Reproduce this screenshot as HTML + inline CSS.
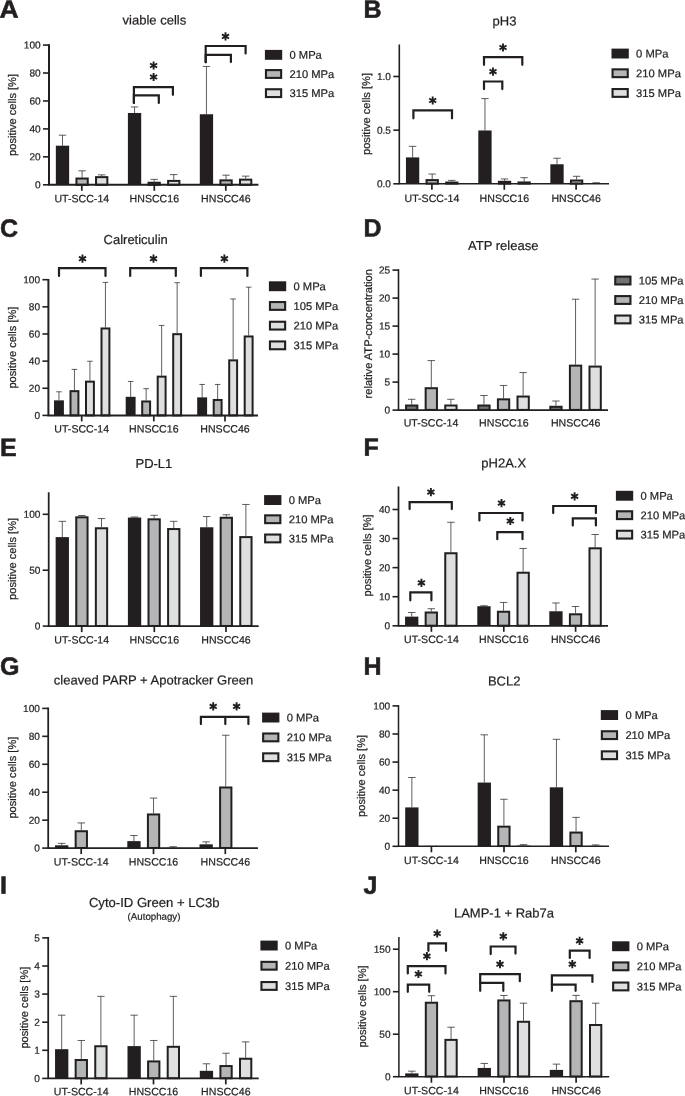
<!DOCTYPE html>
<html><head><meta charset="utf-8"><title>Figure</title>
<style>
html,body{margin:0;padding:0;background:#fff;}
body{width:685px;height:1096px;overflow:hidden;}
text{stroke:#231f20;stroke-width:0.22px;}
svg{display:block;will-change:transform;text-rendering:geometricPrecision;font-family:"Liberation Sans",sans-serif;fill:#231f20;}
</style></head><body>
<svg width="685" height="1096" viewBox="0 0 685 1096">
<rect x="0" y="0" width="685" height="1096" fill="#ffffff"/>
<text transform="translate(-0.40 17.80) rotate(0.03) scale(1.06 1.0)" font-size="25" font-weight="bold" style="stroke:#231f20;stroke-width:0.55px;stroke-linejoin:miter">A</text>
<text transform="translate(154.40 24.60) rotate(0.03)" font-size="13" text-anchor="middle" font-weight="normal" >viable cells</text>
<path d="M62.50 145.67V135.19M58.78 135.19H66.22" stroke="#2c2829" stroke-width="0.75" fill="none"/>
<rect x="55.85" y="145.67" width="13.30" height="39.13" fill="#231f20"/>
<path d="M82.10 177.53V170.83M78.38 170.83H85.82" stroke="#2c2829" stroke-width="0.75" fill="none"/>
<rect x="76.45" y="178.53" width="11.30" height="6.27" fill="#b3b5b7" stroke="#231f20" stroke-width="2.0"/>
<path d="M101.70 176.14V174.88M97.98 174.88H105.42" stroke="#2c2829" stroke-width="0.75" fill="none"/>
<rect x="96.05" y="177.14" width="11.30" height="7.66" fill="#dedfe0" stroke="#231f20" stroke-width="2.0"/>
<path d="M134.55 112.97V106.96M130.83 106.96H138.27" stroke="#2c2829" stroke-width="0.75" fill="none"/>
<rect x="127.90" y="112.97" width="13.30" height="71.83" fill="#231f20"/>
<path d="M154.15 181.73V179.35M150.43 179.35H157.87" stroke="#2c2829" stroke-width="0.75" fill="none"/>
<rect x="148.50" y="182.73" width="11.30" height="2.07" fill="#b3b5b7" stroke="#231f20" stroke-width="2.0"/>
<path d="M173.75 179.91V174.60M170.03 174.60H177.47" stroke="#2c2829" stroke-width="0.75" fill="none"/>
<rect x="168.10" y="180.91" width="11.30" height="3.89" fill="#dedfe0" stroke="#231f20" stroke-width="2.0"/>
<path d="M206.45 114.23V66.44M202.73 66.44H210.17" stroke="#2c2829" stroke-width="0.75" fill="none"/>
<rect x="199.80" y="114.23" width="13.30" height="70.57" fill="#231f20"/>
<path d="M226.05 179.35V175.16M222.33 175.16H229.77" stroke="#2c2829" stroke-width="0.75" fill="none"/>
<rect x="220.40" y="180.35" width="11.30" height="4.45" fill="#b3b5b7" stroke="#231f20" stroke-width="2.0"/>
<path d="M245.65 178.65V176.14M241.93 176.14H249.37" stroke="#2c2829" stroke-width="0.75" fill="none"/>
<rect x="240.00" y="179.65" width="11.30" height="5.15" fill="#dedfe0" stroke="#231f20" stroke-width="2.0"/>
<path d="M49.00 44.26V184.80H258.40" stroke="#231f20" stroke-width="2.0" fill="none" stroke-linejoin="miter"/>
<path d="M43.00 184.80H49.00" stroke="#231f20" stroke-width="1.6"/>
<text transform="translate(40.70 188.30) rotate(0.03)" font-size="10.1" text-anchor="end" font-weight="normal" >0</text>
<path d="M43.00 156.85H49.00" stroke="#231f20" stroke-width="1.6"/>
<text transform="translate(40.70 160.35) rotate(0.03)" font-size="10.1" text-anchor="end" font-weight="normal" >20</text>
<path d="M43.00 128.90H49.00" stroke="#231f20" stroke-width="1.6"/>
<text transform="translate(40.70 132.40) rotate(0.03)" font-size="10.1" text-anchor="end" font-weight="normal" >40</text>
<path d="M43.00 100.96H49.00" stroke="#231f20" stroke-width="1.6"/>
<text transform="translate(40.70 104.46) rotate(0.03)" font-size="10.1" text-anchor="end" font-weight="normal" >60</text>
<path d="M43.00 73.01H49.00" stroke="#231f20" stroke-width="1.6"/>
<text transform="translate(40.70 76.51) rotate(0.03)" font-size="10.1" text-anchor="end" font-weight="normal" >80</text>
<path d="M43.00 45.06H49.00" stroke="#231f20" stroke-width="1.6"/>
<text transform="translate(40.70 48.56) rotate(0.03)" font-size="10.1" text-anchor="end" font-weight="normal" >100</text>
<path d="M81.80 184.80V190.80" stroke="#231f20" stroke-width="1.7"/>
<text transform="translate(81.80 202.30) rotate(0.03)" font-size="10.6" text-anchor="middle" font-weight="normal" >UT-SCC-14</text>
<path d="M154.30 184.80V190.80" stroke="#231f20" stroke-width="1.7"/>
<text transform="translate(154.30 202.30) rotate(0.03)" font-size="10.6" text-anchor="middle" font-weight="normal" >HNSCC16</text>
<path d="M225.80 184.80V190.80" stroke="#231f20" stroke-width="1.7"/>
<text transform="translate(225.80 202.30) rotate(0.03)" font-size="10.6" text-anchor="middle" font-weight="normal" >HNSCC46</text>
<text transform="translate(16.00 114.93) rotate(-90)" font-size="11.1" text-anchor="middle">positive cells [%]</text>
<rect x="264.90" y="49.90" width="17.3" height="9.9" fill="#231f20"/>
<text transform="translate(289.50 58.80) rotate(0.03)" font-size="11.2" text-anchor="start" font-weight="normal" >0 MPa</text>
<rect x="265.95" y="70.10" width="15.2" height="7.8" fill="#b3b5b7" stroke="#231f20" stroke-width="2.1"/>
<text transform="translate(289.50 77.95) rotate(0.03)" font-size="11.2" text-anchor="start" font-weight="normal" >210 MPa</text>
<rect x="265.95" y="89.25" width="15.2" height="7.8" fill="#dedfe0" stroke="#231f20" stroke-width="2.1"/>
<text transform="translate(289.50 97.10) rotate(0.03)" font-size="11.2" text-anchor="start" font-weight="normal" >315 MPa</text>
<path d="M133.90 102.90V87.20H172.90V94.80" stroke="#231f20" stroke-width="2.2" fill="none" stroke-linejoin="miter" stroke-linecap="round"/>
<path d="M133.90 102.90V95.30H158.80V102.90" stroke="#231f20" stroke-width="2.2" fill="none" stroke-linejoin="miter" stroke-linecap="round"/>
<path d="M205.70 62.20V46.00H245.60V53.50" stroke="#231f20" stroke-width="2.2" fill="none" stroke-linejoin="miter" stroke-linecap="round"/>
<path d="M205.70 62.20V54.80H230.90V62.00" stroke="#231f20" stroke-width="2.2" fill="none" stroke-linejoin="miter" stroke-linecap="round"/>
<path d="M153.60 61.40L153.60 69.60M157.15 63.45L150.05 67.55M157.15 67.55L150.05 63.45" stroke="#231f20" stroke-width="1.9" fill="none" stroke-linecap="butt"/>
<path d="M153.60 72.90L153.60 81.10M157.15 74.95L150.05 79.05M157.15 79.05L150.05 74.95" stroke="#231f20" stroke-width="1.9" fill="none" stroke-linecap="butt"/>
<path d="M225.50 32.30L225.50 40.50M229.05 34.35L221.95 38.45M229.05 38.45L221.95 34.35" stroke="#231f20" stroke-width="1.9" fill="none" stroke-linecap="butt"/>
<text transform="translate(363.40 17.80) rotate(0.03) scale(1.0 1.0)" font-size="25" font-weight="bold" style="stroke:#231f20;stroke-width:0.55px;stroke-linejoin:miter">B</text>
<text transform="translate(504.50 25.60) rotate(0.03)" font-size="13" text-anchor="middle" font-weight="normal" >pH3</text>
<path d="M412.60 157.40V146.35M408.88 146.35H416.32" stroke="#2c2829" stroke-width="0.75" fill="none"/>
<rect x="405.95" y="157.40" width="13.30" height="26.40" fill="#231f20"/>
<path d="M432.20 179.08V174.04M428.48 174.04H435.92" stroke="#2c2829" stroke-width="0.75" fill="none"/>
<rect x="426.55" y="180.08" width="11.30" height="3.52" fill="#b3b5b7" stroke="#231f20" stroke-width="2.0"/>
<path d="M451.80 181.55V180.37M448.08 180.37H455.52" stroke="#2c2829" stroke-width="0.75" fill="none"/>
<rect x="446.15" y="182.55" width="11.30" height="1.05" fill="#dedfe0" stroke="#231f20" stroke-width="2.0"/>
<path d="M484.95 130.47V98.60M481.23 98.60H488.67" stroke="#2c2829" stroke-width="0.75" fill="none"/>
<rect x="478.30" y="130.47" width="13.30" height="53.33" fill="#231f20"/>
<path d="M504.55 180.80V178.97M500.83 178.97H508.27" stroke="#2c2829" stroke-width="0.75" fill="none"/>
<rect x="498.90" y="181.80" width="11.30" height="1.80" fill="#b3b5b7" stroke="#231f20" stroke-width="2.0"/>
<path d="M524.15 181.44V177.68M520.43 177.68H527.87" stroke="#2c2829" stroke-width="0.75" fill="none"/>
<rect x="518.50" y="182.44" width="11.30" height="1.16" fill="#dedfe0" stroke="#231f20" stroke-width="2.0"/>
<path d="M557.00 164.27V158.26M553.28 158.26H560.72" stroke="#2c2829" stroke-width="0.75" fill="none"/>
<rect x="550.35" y="164.27" width="13.30" height="19.53" fill="#231f20"/>
<path d="M576.60 179.51V176.29M572.88 176.29H580.32" stroke="#2c2829" stroke-width="0.75" fill="none"/>
<rect x="570.95" y="180.51" width="11.30" height="3.09" fill="#b3b5b7" stroke="#231f20" stroke-width="2.0"/>
<path d="M596.20 183.37V182.73M592.48 182.73H599.92" stroke="#2c2829" stroke-width="0.75" fill="none"/>
<rect x="589.55" y="183.37" width="13.30" height="0.43" fill="#231f20"/>
<path d="M399.30 44.40V183.80H609.00" stroke="#231f20" stroke-width="1.6" fill="none" stroke-linejoin="miter"/>
<path d="M393.30 183.80H399.30" stroke="#231f20" stroke-width="1.6"/>
<text transform="translate(391.00 187.30) rotate(0.03)" font-size="10.1" text-anchor="end" font-weight="normal" >0.0</text>
<path d="M393.30 130.15H399.30" stroke="#231f20" stroke-width="1.6"/>
<text transform="translate(391.00 133.65) rotate(0.03)" font-size="10.1" text-anchor="end" font-weight="normal" >0.5</text>
<path d="M393.30 76.50H399.30" stroke="#231f20" stroke-width="1.6"/>
<text transform="translate(391.00 80.00) rotate(0.03)" font-size="10.1" text-anchor="end" font-weight="normal" >1.0</text>
<path d="M431.90 183.80V189.80" stroke="#231f20" stroke-width="1.7"/>
<text transform="translate(431.90 202.00) rotate(0.03)" font-size="10.6" text-anchor="middle" font-weight="normal" >UT-SCC-14</text>
<path d="M504.30 183.80V189.80" stroke="#231f20" stroke-width="1.7"/>
<text transform="translate(504.30 202.00) rotate(0.03)" font-size="10.6" text-anchor="middle" font-weight="normal" >HNSCC16</text>
<path d="M576.10 183.80V189.80" stroke="#231f20" stroke-width="1.7"/>
<text transform="translate(576.10 202.00) rotate(0.03)" font-size="10.6" text-anchor="middle" font-weight="normal" >HNSCC46</text>
<text transform="translate(369.90 114.00) rotate(-90)" font-size="11.1" text-anchor="middle">positive cells [%]</text>
<rect x="611.50" y="48.60" width="17.3" height="9.9" fill="#231f20"/>
<text transform="translate(636.10 57.50) rotate(0.03)" font-size="11.2" text-anchor="start" font-weight="normal" >0 MPa</text>
<rect x="612.55" y="69.35" width="15.2" height="7.8" fill="#b3b5b7" stroke="#231f20" stroke-width="2.1"/>
<text transform="translate(636.10 77.20) rotate(0.03)" font-size="11.2" text-anchor="start" font-weight="normal" >210 MPa</text>
<rect x="612.55" y="89.05" width="15.2" height="7.8" fill="#dedfe0" stroke="#231f20" stroke-width="2.1"/>
<text transform="translate(636.10 96.90) rotate(0.03)" font-size="11.2" text-anchor="start" font-weight="normal" >315 MPa</text>
<path d="M413.40 118.30V110.40H452.00V118.30" stroke="#231f20" stroke-width="2.2" fill="none" stroke-linejoin="miter" stroke-linecap="round"/>
<path d="M484.00 89.10V81.50H502.30V89.10" stroke="#231f20" stroke-width="2.2" fill="none" stroke-linejoin="miter" stroke-linecap="round"/>
<path d="M484.00 64.80V57.10H522.30V64.80" stroke="#231f20" stroke-width="2.2" fill="none" stroke-linejoin="miter" stroke-linecap="round"/>
<path d="M432.70 96.40L432.70 104.60M436.25 98.45L429.15 102.55M436.25 102.55L429.15 98.45" stroke="#231f20" stroke-width="1.9" fill="none" stroke-linecap="butt"/>
<path d="M493.00 67.50L493.00 75.70M496.55 69.55L489.45 73.65M496.55 73.65L489.45 69.55" stroke="#231f20" stroke-width="1.9" fill="none" stroke-linecap="butt"/>
<path d="M503.00 43.40L503.00 51.60M506.55 45.45L499.45 49.55M506.55 49.55L499.45 45.45" stroke="#231f20" stroke-width="1.9" fill="none" stroke-linecap="butt"/>
<text transform="translate(0.00 236.70) rotate(0.03) scale(1.0 1.0)" font-size="25" font-weight="bold" style="stroke:#231f20;stroke-width:0.55px;stroke-linejoin:miter">C</text>
<text transform="translate(135.70 244.10) rotate(0.03)" font-size="13" text-anchor="middle" font-weight="normal" >Calreticulin</text>
<path d="M58.95 400.34V391.79M56.18 391.79H61.72" stroke="#2c2829" stroke-width="0.75" fill="none"/>
<rect x="54.00" y="400.34" width="9.90" height="15.06" fill="#231f20"/>
<path d="M74.45 390.16V369.40M71.68 369.40H77.22" stroke="#2c2829" stroke-width="0.75" fill="none"/>
<rect x="70.50" y="391.16" width="7.90" height="24.24" fill="#b3b5b7" stroke="#231f20" stroke-width="2.0"/>
<path d="M89.95 380.66V361.26M87.18 361.26H92.72" stroke="#2c2829" stroke-width="0.75" fill="none"/>
<rect x="86.00" y="381.66" width="7.90" height="33.74" fill="#dedfe0" stroke="#231f20" stroke-width="2.0"/>
<path d="M105.45 327.47V282.41M102.68 282.41H108.22" stroke="#2c2829" stroke-width="0.75" fill="none"/>
<rect x="101.50" y="328.47" width="7.90" height="86.93" fill="#dedfe0" stroke="#231f20" stroke-width="2.0"/>
<path d="M130.65 396.81V381.47M127.88 381.47H133.42" stroke="#2c2829" stroke-width="0.75" fill="none"/>
<rect x="125.70" y="396.81" width="9.90" height="18.59" fill="#231f20"/>
<path d="M146.15 400.47V388.67M143.38 388.67H148.92" stroke="#2c2829" stroke-width="0.75" fill="none"/>
<rect x="142.20" y="401.47" width="7.90" height="13.93" fill="#b3b5b7" stroke="#231f20" stroke-width="2.0"/>
<path d="M161.65 375.64V325.43M158.88 325.43H164.42" stroke="#2c2829" stroke-width="0.75" fill="none"/>
<rect x="157.70" y="376.64" width="7.90" height="38.76" fill="#dedfe0" stroke="#231f20" stroke-width="2.0"/>
<path d="M177.15 333.17V282.69M174.38 282.69H179.92" stroke="#2c2829" stroke-width="0.75" fill="none"/>
<rect x="173.20" y="334.17" width="7.90" height="81.23" fill="#dedfe0" stroke="#231f20" stroke-width="2.0"/>
<path d="M202.15 397.35V384.46M199.38 384.46H204.92" stroke="#2c2829" stroke-width="0.75" fill="none"/>
<rect x="197.20" y="397.35" width="9.90" height="18.05" fill="#231f20"/>
<path d="M217.65 398.98V384.46M214.88 384.46H220.42" stroke="#2c2829" stroke-width="0.75" fill="none"/>
<rect x="213.70" y="399.98" width="7.90" height="15.42" fill="#b3b5b7" stroke="#231f20" stroke-width="2.0"/>
<path d="M233.15 359.36V298.97M230.38 298.97H235.92" stroke="#2c2829" stroke-width="0.75" fill="none"/>
<rect x="229.20" y="360.36" width="7.90" height="55.04" fill="#dedfe0" stroke="#231f20" stroke-width="2.0"/>
<path d="M248.65 335.47V287.16M245.88 287.16H251.42" stroke="#2c2829" stroke-width="0.75" fill="none"/>
<rect x="244.70" y="336.47" width="7.90" height="78.93" fill="#dedfe0" stroke="#231f20" stroke-width="2.0"/>
<path d="M48.40 278.90V415.40H258.00" stroke="#231f20" stroke-width="2.0" fill="none" stroke-linejoin="miter"/>
<path d="M42.40 415.40H48.40" stroke="#231f20" stroke-width="1.6"/>
<text transform="translate(40.10 418.90) rotate(0.03)" font-size="10.1" text-anchor="end" font-weight="normal" >0</text>
<path d="M42.40 388.26H48.40" stroke="#231f20" stroke-width="1.6"/>
<text transform="translate(40.10 391.76) rotate(0.03)" font-size="10.1" text-anchor="end" font-weight="normal" >20</text>
<path d="M42.40 361.12H48.40" stroke="#231f20" stroke-width="1.6"/>
<text transform="translate(40.10 364.62) rotate(0.03)" font-size="10.1" text-anchor="end" font-weight="normal" >40</text>
<path d="M42.40 333.98H48.40" stroke="#231f20" stroke-width="1.6"/>
<text transform="translate(40.10 337.48) rotate(0.03)" font-size="10.1" text-anchor="end" font-weight="normal" >60</text>
<path d="M42.40 306.84H48.40" stroke="#231f20" stroke-width="1.6"/>
<text transform="translate(40.10 310.34) rotate(0.03)" font-size="10.1" text-anchor="end" font-weight="normal" >80</text>
<path d="M42.40 279.70H48.40" stroke="#231f20" stroke-width="1.6"/>
<text transform="translate(40.10 283.20) rotate(0.03)" font-size="10.1" text-anchor="end" font-weight="normal" >100</text>
<path d="M81.70 415.40V421.40" stroke="#231f20" stroke-width="1.7"/>
<text transform="translate(81.70 432.50) rotate(0.03)" font-size="10.6" text-anchor="middle" font-weight="normal" >UT-SCC-14</text>
<path d="M153.80 415.40V421.40" stroke="#231f20" stroke-width="1.7"/>
<text transform="translate(153.80 432.50) rotate(0.03)" font-size="10.6" text-anchor="middle" font-weight="normal" >HNSCC16</text>
<path d="M225.00 415.40V421.40" stroke="#231f20" stroke-width="1.7"/>
<text transform="translate(225.00 432.50) rotate(0.03)" font-size="10.6" text-anchor="middle" font-weight="normal" >HNSCC46</text>
<text transform="translate(16.00 347.55) rotate(-90)" font-size="11.1" text-anchor="middle">positive cells [%]</text>
<rect x="268.90" y="281.30" width="17.3" height="9.9" fill="#231f20"/>
<text transform="translate(293.50 290.20) rotate(0.03)" font-size="11.2" text-anchor="start" font-weight="normal" >0 MPa</text>
<rect x="269.95" y="302.05" width="15.2" height="7.8" fill="#b3b5b7" stroke="#231f20" stroke-width="2.1"/>
<text transform="translate(293.50 309.90) rotate(0.03)" font-size="11.2" text-anchor="start" font-weight="normal" >105 MPa</text>
<rect x="269.95" y="321.75" width="15.2" height="7.8" fill="#dedfe0" stroke="#231f20" stroke-width="2.1"/>
<text transform="translate(293.50 329.60) rotate(0.03)" font-size="11.2" text-anchor="start" font-weight="normal" >210 MPa</text>
<rect x="269.95" y="341.45" width="15.2" height="7.8" fill="#dedfe0" stroke="#231f20" stroke-width="2.1"/>
<text transform="translate(293.50 349.30) rotate(0.03)" font-size="11.2" text-anchor="start" font-weight="normal" >315 MPa</text>
<path d="M59.00 276.00V268.10H105.50V276.00" stroke="#231f20" stroke-width="2.2" fill="none" stroke-linejoin="miter" stroke-linecap="round"/>
<path d="M130.20 276.00V268.10H175.80V276.00" stroke="#231f20" stroke-width="2.2" fill="none" stroke-linejoin="miter" stroke-linecap="round"/>
<path d="M200.90 276.00V268.10H247.40V276.00" stroke="#231f20" stroke-width="2.2" fill="none" stroke-linejoin="miter" stroke-linecap="round"/>
<path d="M82.50 254.60L82.50 262.80M86.05 256.65L78.95 260.75M86.05 260.75L78.95 256.65" stroke="#231f20" stroke-width="1.9" fill="none" stroke-linecap="butt"/>
<path d="M153.50 254.60L153.50 262.80M157.05 256.65L149.95 260.75M157.05 260.75L149.95 256.65" stroke="#231f20" stroke-width="1.9" fill="none" stroke-linecap="butt"/>
<path d="M224.40 254.60L224.40 262.80M227.95 256.65L220.85 260.75M227.95 260.75L220.85 256.65" stroke="#231f20" stroke-width="1.9" fill="none" stroke-linecap="butt"/>
<text transform="translate(363.40 236.60) rotate(0.03) scale(1.0 1.0)" font-size="25" font-weight="bold" style="stroke:#231f20;stroke-width:0.55px;stroke-linejoin:miter">D</text>
<text transform="translate(503.20 250.10) rotate(0.03)" font-size="13" text-anchor="middle" font-weight="normal" >ATP release</text>
<path d="M411.70 404.50V399.29M407.98 399.29H415.42" stroke="#2c2829" stroke-width="0.75" fill="none"/>
<rect x="406.05" y="405.50" width="11.30" height="4.40" fill="#6f7173" stroke="#231f20" stroke-width="2.0"/>
<path d="M431.30 387.20V360.60M427.58 360.60H435.02" stroke="#2c2829" stroke-width="0.75" fill="none"/>
<rect x="425.65" y="388.20" width="11.30" height="21.70" fill="#b3b5b7" stroke="#231f20" stroke-width="2.0"/>
<path d="M450.90 404.50V399.29M447.18 399.29H454.62" stroke="#2c2829" stroke-width="0.75" fill="none"/>
<rect x="445.25" y="405.50" width="11.30" height="4.40" fill="#dedfe0" stroke="#231f20" stroke-width="2.0"/>
<path d="M483.95 404.50V395.54M480.23 395.54H487.67" stroke="#2c2829" stroke-width="0.75" fill="none"/>
<rect x="478.30" y="405.50" width="11.30" height="4.40" fill="#6f7173" stroke="#231f20" stroke-width="2.0"/>
<path d="M503.55 398.34V385.46M499.83 385.46H507.27" stroke="#2c2829" stroke-width="0.75" fill="none"/>
<rect x="497.90" y="399.34" width="11.30" height="10.56" fill="#b3b5b7" stroke="#231f20" stroke-width="2.0"/>
<path d="M523.15 395.54V372.58M519.43 372.58H526.87" stroke="#2c2829" stroke-width="0.75" fill="none"/>
<rect x="517.50" y="396.54" width="11.30" height="13.36" fill="#dedfe0" stroke="#231f20" stroke-width="2.0"/>
<path d="M555.95 405.79V401.03M552.23 401.03H559.67" stroke="#2c2829" stroke-width="0.75" fill="none"/>
<rect x="550.30" y="406.79" width="11.30" height="3.11" fill="#6f7173" stroke="#231f20" stroke-width="2.0"/>
<path d="M575.55 364.63V299.22M571.83 299.22H579.27" stroke="#2c2829" stroke-width="0.75" fill="none"/>
<rect x="569.90" y="365.63" width="11.30" height="44.27" fill="#b3b5b7" stroke="#231f20" stroke-width="2.0"/>
<path d="M595.15 365.58V279.06M591.43 279.06H598.87" stroke="#2c2829" stroke-width="0.75" fill="none"/>
<rect x="589.50" y="366.58" width="11.30" height="43.32" fill="#dedfe0" stroke="#231f20" stroke-width="2.0"/>
<path d="M398.50 269.30V410.10H608.00" stroke="#231f20" stroke-width="1.6" fill="none" stroke-linejoin="miter"/>
<path d="M392.50 410.10H398.50" stroke="#231f20" stroke-width="1.6"/>
<text transform="translate(390.20 413.60) rotate(0.03)" font-size="10.1" text-anchor="end" font-weight="normal" >0</text>
<path d="M392.50 382.10H398.50" stroke="#231f20" stroke-width="1.6"/>
<text transform="translate(390.20 385.60) rotate(0.03)" font-size="10.1" text-anchor="end" font-weight="normal" >5</text>
<path d="M392.50 354.10H398.50" stroke="#231f20" stroke-width="1.6"/>
<text transform="translate(390.20 357.60) rotate(0.03)" font-size="10.1" text-anchor="end" font-weight="normal" >10</text>
<path d="M392.50 326.10H398.50" stroke="#231f20" stroke-width="1.6"/>
<text transform="translate(390.20 329.60) rotate(0.03)" font-size="10.1" text-anchor="end" font-weight="normal" >15</text>
<path d="M392.50 298.10H398.50" stroke="#231f20" stroke-width="1.6"/>
<text transform="translate(390.20 301.60) rotate(0.03)" font-size="10.1" text-anchor="end" font-weight="normal" >20</text>
<path d="M392.50 270.10H398.50" stroke="#231f20" stroke-width="1.6"/>
<text transform="translate(390.20 273.60) rotate(0.03)" font-size="10.1" text-anchor="end" font-weight="normal" >25</text>
<text transform="translate(431.00 426.60) rotate(0.03)" font-size="10.6" text-anchor="middle" font-weight="normal" >UT-SCC-14</text>
<text transform="translate(503.80 426.60) rotate(0.03)" font-size="10.6" text-anchor="middle" font-weight="normal" >HNSCC16</text>
<text transform="translate(575.60 426.60) rotate(0.03)" font-size="10.6" text-anchor="middle" font-weight="normal" >HNSCC46</text>
<text transform="translate(372.10 333.80) rotate(-90)" font-size="11.1" text-anchor="middle">relative ATP-concentration</text>
<rect x="615.25" y="276.65" width="15.2" height="7.8" fill="#6f7173" stroke="#231f20" stroke-width="2.1"/>
<text transform="translate(638.80 284.50) rotate(0.03)" font-size="11.2" text-anchor="start" font-weight="normal" >105 MPa</text>
<rect x="615.25" y="296.10" width="15.2" height="7.8" fill="#b3b5b7" stroke="#231f20" stroke-width="2.1"/>
<text transform="translate(638.80 303.95) rotate(0.03)" font-size="11.2" text-anchor="start" font-weight="normal" >210 MPa</text>
<rect x="615.25" y="315.55" width="15.2" height="7.8" fill="#dedfe0" stroke="#231f20" stroke-width="2.1"/>
<text transform="translate(638.80 323.40) rotate(0.03)" font-size="11.2" text-anchor="start" font-weight="normal" >315 MPa</text>
<text transform="translate(0.00 455.90) rotate(0.03) scale(1.0 1.0)" font-size="25" font-weight="bold" style="stroke:#231f20;stroke-width:0.55px;stroke-linejoin:miter">E</text>
<text transform="translate(153.90 468.10) rotate(0.03)" font-size="13" text-anchor="middle" font-weight="normal" >PD-L1</text>
<path d="M62.30 537.11V521.34M58.58 521.34H66.02" stroke="#2c2829" stroke-width="0.75" fill="none"/>
<rect x="55.65" y="537.11" width="13.30" height="88.99" fill="#231f20"/>
<path d="M81.90 516.31V515.53M78.18 515.53H85.62" stroke="#2c2829" stroke-width="0.75" fill="none"/>
<rect x="76.25" y="517.31" width="11.30" height="108.66" fill="#b3b5b7" stroke="#231f20" stroke-width="2.0"/>
<path d="M101.50 527.27V518.55M97.78 518.55H105.22" stroke="#2c2829" stroke-width="0.75" fill="none"/>
<rect x="95.85" y="528.27" width="11.30" height="97.71" fill="#dedfe0" stroke="#231f20" stroke-width="2.0"/>
<path d="M134.55 517.54V516.98M130.83 516.98H138.27" stroke="#2c2829" stroke-width="0.75" fill="none"/>
<rect x="127.90" y="517.54" width="13.30" height="108.56" fill="#231f20"/>
<path d="M154.15 518.32V515.31M150.43 515.31H157.87" stroke="#2c2829" stroke-width="0.75" fill="none"/>
<rect x="148.50" y="519.32" width="11.30" height="106.65" fill="#b3b5b7" stroke="#231f20" stroke-width="2.0"/>
<path d="M173.75 528.05V521.34M170.03 521.34H177.47" stroke="#2c2829" stroke-width="0.75" fill="none"/>
<rect x="168.10" y="529.05" width="11.30" height="96.92" fill="#dedfe0" stroke="#231f20" stroke-width="2.0"/>
<path d="M206.70 527.27V516.54M202.98 516.54H210.42" stroke="#2c2829" stroke-width="0.75" fill="none"/>
<rect x="200.05" y="527.27" width="13.30" height="98.83" fill="#231f20"/>
<path d="M226.30 516.76V514.75M222.58 514.75H230.02" stroke="#2c2829" stroke-width="0.75" fill="none"/>
<rect x="220.65" y="517.76" width="11.30" height="108.22" fill="#b3b5b7" stroke="#231f20" stroke-width="2.0"/>
<path d="M245.90 536.10V504.46M242.18 504.46H249.62" stroke="#2c2829" stroke-width="0.75" fill="none"/>
<rect x="240.25" y="537.10" width="11.30" height="88.87" fill="#dedfe0" stroke="#231f20" stroke-width="2.0"/>
<path d="M48.70 492.20V626.10H258.70" stroke="#231f20" stroke-width="1.75" fill="none" stroke-linejoin="miter"/>
<path d="M42.70 626.10H48.70" stroke="#231f20" stroke-width="1.6"/>
<text transform="translate(40.40 629.60) rotate(0.03)" font-size="10.1" text-anchor="end" font-weight="normal" >0</text>
<path d="M42.70 570.20H48.70" stroke="#231f20" stroke-width="1.6"/>
<text transform="translate(40.40 573.70) rotate(0.03)" font-size="10.1" text-anchor="end" font-weight="normal" >50</text>
<path d="M42.70 514.30H48.70" stroke="#231f20" stroke-width="1.6"/>
<text transform="translate(40.40 517.80) rotate(0.03)" font-size="10.1" text-anchor="end" font-weight="normal" >100</text>
<path d="M81.70 626.10V632.10" stroke="#231f20" stroke-width="1.7"/>
<text transform="translate(81.70 643.60) rotate(0.03)" font-size="10.6" text-anchor="middle" font-weight="normal" >UT-SCC-14</text>
<path d="M154.30 626.10V632.10" stroke="#231f20" stroke-width="1.7"/>
<text transform="translate(154.30 643.60) rotate(0.03)" font-size="10.6" text-anchor="middle" font-weight="normal" >HNSCC16</text>
<path d="M226.00 626.10V632.10" stroke="#231f20" stroke-width="1.7"/>
<text transform="translate(226.00 643.60) rotate(0.03)" font-size="10.6" text-anchor="middle" font-weight="normal" >HNSCC46</text>
<text transform="translate(16.00 558.90) rotate(-90)" font-size="11.1" text-anchor="middle">positive cells [%]</text>
<rect x="264.10" y="495.10" width="17.3" height="9.9" fill="#231f20"/>
<text transform="translate(288.70 504.00) rotate(0.03)" font-size="11.2" text-anchor="start" font-weight="normal" >0 MPa</text>
<rect x="265.15" y="515.35" width="15.2" height="7.8" fill="#b3b5b7" stroke="#231f20" stroke-width="2.1"/>
<text transform="translate(288.70 523.20) rotate(0.03)" font-size="11.2" text-anchor="start" font-weight="normal" >210 MPa</text>
<rect x="265.15" y="534.55" width="15.2" height="7.8" fill="#dedfe0" stroke="#231f20" stroke-width="2.1"/>
<text transform="translate(288.70 542.40) rotate(0.03)" font-size="11.2" text-anchor="start" font-weight="normal" >315 MPa</text>
<text transform="translate(363.40 455.70) rotate(0.03) scale(1.0 1.0)" font-size="25" font-weight="bold" style="stroke:#231f20;stroke-width:0.55px;stroke-linejoin:miter">F</text>
<text transform="translate(503.70 467.60) rotate(0.03)" font-size="13" text-anchor="middle" font-weight="normal" >pH2A.X</text>
<path d="M411.70 616.64V612.51M407.98 612.51H415.42" stroke="#2c2829" stroke-width="0.75" fill="none"/>
<rect x="405.05" y="616.64" width="13.30" height="9.16" fill="#231f20"/>
<path d="M431.30 611.50V608.73M427.58 608.73H435.02" stroke="#2c2829" stroke-width="0.75" fill="none"/>
<rect x="425.65" y="612.50" width="11.30" height="13.18" fill="#b3b5b7" stroke="#231f20" stroke-width="2.0"/>
<path d="M450.90 552.24V522.29M447.18 522.29H454.62" stroke="#2c2829" stroke-width="0.75" fill="none"/>
<rect x="445.25" y="553.24" width="11.30" height="72.43" fill="#dedfe0" stroke="#231f20" stroke-width="2.0"/>
<path d="M483.95 606.23V605.74M480.23 605.74H487.67" stroke="#2c2829" stroke-width="0.75" fill="none"/>
<rect x="477.30" y="606.23" width="13.30" height="19.57" fill="#231f20"/>
<path d="M503.55 610.74V602.45M499.83 602.45H507.27" stroke="#2c2829" stroke-width="0.75" fill="none"/>
<rect x="497.90" y="611.74" width="11.30" height="13.94" fill="#b3b5b7" stroke="#231f20" stroke-width="2.0"/>
<path d="M523.15 571.72V548.46M519.43 548.46H526.87" stroke="#2c2829" stroke-width="0.75" fill="none"/>
<rect x="517.50" y="572.72" width="11.30" height="52.95" fill="#dedfe0" stroke="#231f20" stroke-width="2.0"/>
<path d="M555.95 611.26V602.98M552.23 602.98H559.67" stroke="#2c2829" stroke-width="0.75" fill="none"/>
<rect x="549.30" y="611.26" width="13.30" height="14.54" fill="#231f20"/>
<path d="M575.55 613.30V606.49M571.83 606.49H579.27" stroke="#2c2829" stroke-width="0.75" fill="none"/>
<rect x="569.90" y="614.30" width="11.30" height="11.38" fill="#b3b5b7" stroke="#231f20" stroke-width="2.0"/>
<path d="M595.15 547.30V534.50M591.43 534.50H598.87" stroke="#2c2829" stroke-width="0.75" fill="none"/>
<rect x="589.50" y="548.30" width="11.30" height="77.38" fill="#dedfe0" stroke="#231f20" stroke-width="2.0"/>
<path d="M398.50 486.40V625.80H608.00" stroke="#231f20" stroke-width="1.75" fill="none" stroke-linejoin="miter"/>
<path d="M392.50 625.80H398.50" stroke="#231f20" stroke-width="1.6"/>
<text transform="translate(390.20 629.30) rotate(0.03)" font-size="10.1" text-anchor="end" font-weight="normal" >0</text>
<path d="M392.50 596.72H398.50" stroke="#231f20" stroke-width="1.6"/>
<text transform="translate(390.20 600.22) rotate(0.03)" font-size="10.1" text-anchor="end" font-weight="normal" >10</text>
<path d="M392.50 567.65H398.50" stroke="#231f20" stroke-width="1.6"/>
<text transform="translate(390.20 571.15) rotate(0.03)" font-size="10.1" text-anchor="end" font-weight="normal" >20</text>
<path d="M392.50 538.58H398.50" stroke="#231f20" stroke-width="1.6"/>
<text transform="translate(390.20 542.08) rotate(0.03)" font-size="10.1" text-anchor="end" font-weight="normal" >30</text>
<path d="M392.50 509.50H398.50" stroke="#231f20" stroke-width="1.6"/>
<text transform="translate(390.20 513.00) rotate(0.03)" font-size="10.1" text-anchor="end" font-weight="normal" >40</text>
<path d="M431.40 625.80V631.80" stroke="#231f20" stroke-width="1.7"/>
<text transform="translate(431.40 643.10) rotate(0.03)" font-size="10.6" text-anchor="middle" font-weight="normal" >UT-SCC-14</text>
<path d="M503.80 625.80V631.80" stroke="#231f20" stroke-width="1.7"/>
<text transform="translate(503.80 643.10) rotate(0.03)" font-size="10.6" text-anchor="middle" font-weight="normal" >HNSCC16</text>
<path d="M575.60 625.80V631.80" stroke="#231f20" stroke-width="1.7"/>
<text transform="translate(575.60 643.10) rotate(0.03)" font-size="10.6" text-anchor="middle" font-weight="normal" >HNSCC46</text>
<text transform="translate(371.40 555.40) rotate(-90)" font-size="11.1" text-anchor="middle">positive cells [%]</text>
<rect x="615.90" y="490.80" width="17.3" height="9.9" fill="#231f20"/>
<text transform="translate(640.50 499.70) rotate(0.03)" font-size="11.2" text-anchor="start" font-weight="normal" >0 MPa</text>
<rect x="616.95" y="511.30" width="15.2" height="7.8" fill="#b3b5b7" stroke="#231f20" stroke-width="2.1"/>
<text transform="translate(640.50 519.15) rotate(0.03)" font-size="11.2" text-anchor="start" font-weight="normal" >210 MPa</text>
<rect x="616.95" y="530.75" width="15.2" height="7.8" fill="#dedfe0" stroke="#231f20" stroke-width="2.1"/>
<text transform="translate(640.50 538.60) rotate(0.03)" font-size="11.2" text-anchor="start" font-weight="normal" >315 MPa</text>
<path d="M409.60 509.10V502.20H451.80V509.10" stroke="#231f20" stroke-width="2.2" fill="none" stroke-linejoin="miter" stroke-linecap="round"/>
<path d="M410.30 600.30V592.40H431.40V600.30" stroke="#231f20" stroke-width="2.2" fill="none" stroke-linejoin="miter" stroke-linecap="round"/>
<path d="M479.40 520.40V513.00H522.50V520.40" stroke="#231f20" stroke-width="2.2" fill="none" stroke-linejoin="miter" stroke-linecap="round"/>
<path d="M497.30 539.20V532.10H522.50V539.20" stroke="#231f20" stroke-width="2.2" fill="none" stroke-linejoin="miter" stroke-linecap="round"/>
<path d="M553.20 513.10V506.00H595.90V513.10" stroke="#231f20" stroke-width="2.2" fill="none" stroke-linejoin="miter" stroke-linecap="round"/>
<path d="M572.80 525.40V518.30H595.90V525.40" stroke="#231f20" stroke-width="2.2" fill="none" stroke-linejoin="miter" stroke-linecap="round"/>
<path d="M430.90 488.00L430.90 496.20M434.45 490.05L427.35 494.15M434.45 494.15L427.35 490.05" stroke="#231f20" stroke-width="1.9" fill="none" stroke-linecap="butt"/>
<path d="M421.40 578.70L421.40 586.90M424.95 580.75L417.85 584.85M424.95 584.85L417.85 580.75" stroke="#231f20" stroke-width="1.9" fill="none" stroke-linecap="butt"/>
<path d="M501.50 499.00L501.50 507.20M505.05 501.05L497.95 505.15M505.05 505.15L497.95 501.05" stroke="#231f20" stroke-width="1.9" fill="none" stroke-linecap="butt"/>
<path d="M510.30 516.90L510.30 525.10M513.85 518.95L506.75 523.05M513.85 523.05L506.75 518.95" stroke="#231f20" stroke-width="1.9" fill="none" stroke-linecap="butt"/>
<path d="M574.60 492.20L574.60 500.40M578.15 494.25L571.05 498.35M578.15 498.35L571.05 494.25" stroke="#231f20" stroke-width="1.9" fill="none" stroke-linecap="butt"/>
<text transform="translate(0.00 674.80) rotate(0.03) scale(1.0 1.0)" font-size="25" font-weight="bold" style="stroke:#231f20;stroke-width:0.55px;stroke-linejoin:miter">G</text>
<text transform="translate(153.50 684.50) rotate(0.03)" font-size="13" text-anchor="middle" font-weight="normal" >cleaved PARP + Apotracker Green</text>
<path d="M61.70 845.31V843.35M57.98 843.35H65.42" stroke="#2c2829" stroke-width="0.75" fill="none"/>
<rect x="55.05" y="845.31" width="13.30" height="2.79" fill="#231f20"/>
<path d="M81.30 830.22V822.95M77.58 822.95H85.02" stroke="#2c2829" stroke-width="0.75" fill="none"/>
<rect x="75.65" y="831.22" width="11.30" height="16.76" fill="#b3b5b7" stroke="#231f20" stroke-width="2.0"/>
<path d="M133.95 841.12V835.53M130.23 835.53H137.67" stroke="#2c2829" stroke-width="0.75" fill="none"/>
<rect x="127.30" y="841.12" width="13.30" height="6.99" fill="#231f20"/>
<path d="M153.55 813.45V798.09M149.83 798.09H157.27" stroke="#2c2829" stroke-width="0.75" fill="none"/>
<rect x="147.90" y="814.45" width="11.30" height="33.52" fill="#b3b5b7" stroke="#231f20" stroke-width="2.0"/>
<path d="M173.15 847.82V846.70M169.43 846.70H176.87" stroke="#2c2829" stroke-width="0.75" fill="none"/>
<rect x="166.50" y="847.82" width="13.30" height="0.28" fill="#231f20"/>
<path d="M206.15 844.33V841.81M202.43 841.81H209.87" stroke="#2c2829" stroke-width="0.75" fill="none"/>
<rect x="199.50" y="844.33" width="13.30" height="3.77" fill="#231f20"/>
<path d="M225.75 786.49V735.22M222.03 735.22H229.47" stroke="#2c2829" stroke-width="0.75" fill="none"/>
<rect x="220.10" y="787.49" width="11.30" height="60.48" fill="#b3b5b7" stroke="#231f20" stroke-width="2.0"/>
<path d="M48.20 707.60V848.10H257.90" stroke="#231f20" stroke-width="1.75" fill="none" stroke-linejoin="miter"/>
<path d="M42.20 848.10H48.20" stroke="#231f20" stroke-width="1.6"/>
<text transform="translate(39.90 851.60) rotate(0.03)" font-size="10.1" text-anchor="end" font-weight="normal" >0</text>
<path d="M42.20 820.16H48.20" stroke="#231f20" stroke-width="1.6"/>
<text transform="translate(39.90 823.66) rotate(0.03)" font-size="10.1" text-anchor="end" font-weight="normal" >20</text>
<path d="M42.20 792.22H48.20" stroke="#231f20" stroke-width="1.6"/>
<text transform="translate(39.90 795.72) rotate(0.03)" font-size="10.1" text-anchor="end" font-weight="normal" >40</text>
<path d="M42.20 764.28H48.20" stroke="#231f20" stroke-width="1.6"/>
<text transform="translate(39.90 767.78) rotate(0.03)" font-size="10.1" text-anchor="end" font-weight="normal" >60</text>
<path d="M42.20 736.34H48.20" stroke="#231f20" stroke-width="1.6"/>
<text transform="translate(39.90 739.84) rotate(0.03)" font-size="10.1" text-anchor="end" font-weight="normal" >80</text>
<path d="M42.20 708.40H48.20" stroke="#231f20" stroke-width="1.6"/>
<text transform="translate(39.90 711.90) rotate(0.03)" font-size="10.1" text-anchor="end" font-weight="normal" >100</text>
<path d="M81.20 848.10V854.10" stroke="#231f20" stroke-width="1.7"/>
<text transform="translate(81.20 865.40) rotate(0.03)" font-size="10.6" text-anchor="middle" font-weight="normal" >UT-SCC-14</text>
<path d="M153.50 848.10V854.10" stroke="#231f20" stroke-width="1.7"/>
<text transform="translate(153.50 865.40) rotate(0.03)" font-size="10.6" text-anchor="middle" font-weight="normal" >HNSCC16</text>
<path d="M225.30 848.10V854.10" stroke="#231f20" stroke-width="1.7"/>
<text transform="translate(225.30 865.40) rotate(0.03)" font-size="10.6" text-anchor="middle" font-weight="normal" >HNSCC46</text>
<text transform="translate(15.80 777.60) rotate(-90)" font-size="11.1" text-anchor="middle">positive cells [%]</text>
<rect x="262.10" y="712.60" width="17.3" height="9.9" fill="#231f20"/>
<text transform="translate(286.70 721.50) rotate(0.03)" font-size="11.2" text-anchor="start" font-weight="normal" >0 MPa</text>
<rect x="263.15" y="733.50" width="15.2" height="7.8" fill="#b3b5b7" stroke="#231f20" stroke-width="2.1"/>
<text transform="translate(286.70 741.35) rotate(0.03)" font-size="11.2" text-anchor="start" font-weight="normal" >210 MPa</text>
<rect x="263.15" y="753.35" width="15.2" height="7.8" fill="#dedfe0" stroke="#231f20" stroke-width="2.1"/>
<text transform="translate(286.70 761.20) rotate(0.03)" font-size="11.2" text-anchor="start" font-weight="normal" >315 MPa</text>
<path d="M200.90 724.10V716.90H248.40V724.10" stroke="#231f20" stroke-width="2.2" fill="none" stroke-linejoin="miter" stroke-linecap="round"/>
<path d="M225.30 724.10V716.90H225.30V724.10" stroke="#231f20" stroke-width="2.2" fill="none" stroke-linejoin="miter" stroke-linecap="round"/>
<path d="M213.20 702.30L213.20 710.50M216.75 704.35L209.65 708.45M216.75 708.45L209.65 704.35" stroke="#231f20" stroke-width="1.9" fill="none" stroke-linecap="butt"/>
<path d="M236.60 702.30L236.60 710.50M240.15 704.35L233.05 708.45M240.15 708.45L233.05 704.35" stroke="#231f20" stroke-width="1.9" fill="none" stroke-linecap="butt"/>
<text transform="translate(363.40 674.70) rotate(0.03) scale(1.0 1.0)" font-size="25" font-weight="bold" style="stroke:#231f20;stroke-width:0.55px;stroke-linejoin:miter">H</text>
<text transform="translate(504.20 685.60) rotate(0.03)" font-size="13" text-anchor="middle" font-weight="normal" >BCL2</text>
<path d="M411.85 807.41V777.50M408.13 777.50H415.57" stroke="#2c2829" stroke-width="0.75" fill="none"/>
<rect x="405.20" y="807.41" width="13.30" height="38.89" fill="#231f20"/>
<rect x="424.80" y="845.88" width="13.30" height="0.42" fill="#231f20"/>
<path d="M484.30 782.56V734.82M480.58 734.82H488.02" stroke="#2c2829" stroke-width="0.75" fill="none"/>
<rect x="477.65" y="782.56" width="13.30" height="63.74" fill="#231f20"/>
<path d="M503.90 825.66V799.27M500.18 799.27H507.62" stroke="#2c2829" stroke-width="0.75" fill="none"/>
<rect x="498.25" y="826.66" width="11.30" height="19.39" fill="#b3b5b7" stroke="#231f20" stroke-width="2.0"/>
<path d="M523.50 845.60V844.62M519.78 844.62H527.22" stroke="#2c2829" stroke-width="0.75" fill="none"/>
<rect x="516.85" y="845.60" width="13.30" height="0.70" fill="#231f20"/>
<path d="M556.45 787.33V739.32M552.73 739.32H560.17" stroke="#2c2829" stroke-width="0.75" fill="none"/>
<rect x="549.80" y="787.33" width="13.30" height="58.97" fill="#231f20"/>
<path d="M576.05 831.56V817.38M572.33 817.38H579.77" stroke="#2c2829" stroke-width="0.75" fill="none"/>
<rect x="570.40" y="832.56" width="11.30" height="13.49" fill="#b3b5b7" stroke="#231f20" stroke-width="2.0"/>
<path d="M595.65 845.88V844.90M591.93 844.90H599.37" stroke="#2c2829" stroke-width="0.75" fill="none"/>
<rect x="589.00" y="845.88" width="13.30" height="0.42" fill="#231f20"/>
<path d="M398.50 705.10V846.30H609.00" stroke="#231f20" stroke-width="1.5" fill="none" stroke-linejoin="miter"/>
<path d="M392.50 846.30H398.50" stroke="#231f20" stroke-width="1.6"/>
<text transform="translate(390.20 849.80) rotate(0.03)" font-size="10.1" text-anchor="end" font-weight="normal" >0</text>
<path d="M392.50 818.22H398.50" stroke="#231f20" stroke-width="1.6"/>
<text transform="translate(390.20 821.72) rotate(0.03)" font-size="10.1" text-anchor="end" font-weight="normal" >20</text>
<path d="M392.50 790.14H398.50" stroke="#231f20" stroke-width="1.6"/>
<text transform="translate(390.20 793.64) rotate(0.03)" font-size="10.1" text-anchor="end" font-weight="normal" >40</text>
<path d="M392.50 762.06H398.50" stroke="#231f20" stroke-width="1.6"/>
<text transform="translate(390.20 765.56) rotate(0.03)" font-size="10.1" text-anchor="end" font-weight="normal" >60</text>
<path d="M392.50 733.98H398.50" stroke="#231f20" stroke-width="1.6"/>
<text transform="translate(390.20 737.48) rotate(0.03)" font-size="10.1" text-anchor="end" font-weight="normal" >80</text>
<path d="M392.50 705.90H398.50" stroke="#231f20" stroke-width="1.6"/>
<text transform="translate(390.20 709.40) rotate(0.03)" font-size="10.1" text-anchor="end" font-weight="normal" >100</text>
<path d="M431.40 846.30V852.30" stroke="#231f20" stroke-width="1.7"/>
<text transform="translate(431.40 863.90) rotate(0.03)" font-size="10.6" text-anchor="middle" font-weight="normal" >UT-SCC-14</text>
<path d="M504.00 846.30V852.30" stroke="#231f20" stroke-width="1.7"/>
<text transform="translate(504.00 863.90) rotate(0.03)" font-size="10.6" text-anchor="middle" font-weight="normal" >HNSCC16</text>
<path d="M575.80 846.30V852.30" stroke="#231f20" stroke-width="1.7"/>
<text transform="translate(575.80 863.90) rotate(0.03)" font-size="10.6" text-anchor="middle" font-weight="normal" >HNSCC46</text>
<text transform="translate(365.40 775.90) rotate(-90)" font-size="11.1" text-anchor="middle">positive cells [%]</text>
<rect x="600.80" y="710.10" width="17.3" height="9.9" fill="#231f20"/>
<text transform="translate(625.40 719.00) rotate(0.03)" font-size="11.2" text-anchor="start" font-weight="normal" >0 MPa</text>
<rect x="601.85" y="731.25" width="15.2" height="7.8" fill="#b3b5b7" stroke="#231f20" stroke-width="2.1"/>
<text transform="translate(625.40 739.10) rotate(0.03)" font-size="11.2" text-anchor="start" font-weight="normal" >210 MPa</text>
<rect x="601.85" y="751.35" width="15.2" height="7.8" fill="#dedfe0" stroke="#231f20" stroke-width="2.1"/>
<text transform="translate(625.40 759.20) rotate(0.03)" font-size="11.2" text-anchor="start" font-weight="normal" >315 MPa</text>
<text transform="translate(0.00 893.80) rotate(0.03) scale(1.0 1.0)" font-size="25" font-weight="bold" style="stroke:#231f20;stroke-width:0.55px;stroke-linejoin:miter">I</text>
<text transform="translate(154.20 907.10) rotate(0.03)" font-size="13.1" text-anchor="middle" font-weight="normal" >Cyto-ID Green + LC3b</text>
<text transform="translate(154.00 919.70) rotate(0.03)" font-size="9.7" text-anchor="middle" font-weight="normal" >(Autophagy)</text>
<path d="M61.70 1049.18V1015.18M57.98 1015.18H65.42" stroke="#2c2829" stroke-width="0.75" fill="none"/>
<rect x="55.05" y="1049.18" width="13.30" height="29.22" fill="#231f20"/>
<path d="M81.30 1059.01V1040.47M77.58 1040.47H85.02" stroke="#2c2829" stroke-width="0.75" fill="none"/>
<rect x="75.65" y="1060.01" width="11.30" height="18.26" fill="#b3b5b7" stroke="#231f20" stroke-width="2.0"/>
<path d="M100.90 1045.24V996.35M97.18 996.35H104.62" stroke="#2c2829" stroke-width="0.75" fill="none"/>
<rect x="95.25" y="1046.24" width="11.30" height="32.03" fill="#dedfe0" stroke="#231f20" stroke-width="2.0"/>
<path d="M134.15 1046.09V1015.18M130.43 1015.18H137.87" stroke="#2c2829" stroke-width="0.75" fill="none"/>
<rect x="127.50" y="1046.09" width="13.30" height="32.32" fill="#231f20"/>
<path d="M153.75 1060.42V1040.47M150.03 1040.47H157.47" stroke="#2c2829" stroke-width="0.75" fill="none"/>
<rect x="148.10" y="1061.42" width="11.30" height="16.86" fill="#b3b5b7" stroke="#231f20" stroke-width="2.0"/>
<path d="M173.35 1045.80V996.35M169.63 996.35H177.07" stroke="#2c2829" stroke-width="0.75" fill="none"/>
<rect x="167.70" y="1046.80" width="11.30" height="31.47" fill="#dedfe0" stroke="#231f20" stroke-width="2.0"/>
<path d="M206.45 1070.81V1063.79M202.73 1063.79H210.17" stroke="#2c2829" stroke-width="0.75" fill="none"/>
<rect x="199.80" y="1070.81" width="13.30" height="7.59" fill="#231f20"/>
<path d="M226.05 1065.05V1053.25M222.33 1053.25H229.77" stroke="#2c2829" stroke-width="0.75" fill="none"/>
<rect x="220.40" y="1066.05" width="11.30" height="12.22" fill="#b3b5b7" stroke="#231f20" stroke-width="2.0"/>
<path d="M245.65 1057.75V1041.87M241.93 1041.87H249.37" stroke="#2c2829" stroke-width="0.75" fill="none"/>
<rect x="240.00" y="1058.75" width="11.30" height="19.53" fill="#dedfe0" stroke="#231f20" stroke-width="2.0"/>
<path d="M48.20 937.10V1078.40H258.70" stroke="#231f20" stroke-width="1.75" fill="none" stroke-linejoin="miter"/>
<path d="M42.20 1078.40H48.20" stroke="#231f20" stroke-width="1.6"/>
<text transform="translate(39.90 1081.90) rotate(0.03)" font-size="10.1" text-anchor="end" font-weight="normal" >0</text>
<path d="M42.20 1050.30H48.20" stroke="#231f20" stroke-width="1.6"/>
<text transform="translate(39.90 1053.80) rotate(0.03)" font-size="10.1" text-anchor="end" font-weight="normal" >1</text>
<path d="M42.20 1022.20H48.20" stroke="#231f20" stroke-width="1.6"/>
<text transform="translate(39.90 1025.70) rotate(0.03)" font-size="10.1" text-anchor="end" font-weight="normal" >2</text>
<path d="M42.20 994.10H48.20" stroke="#231f20" stroke-width="1.6"/>
<text transform="translate(39.90 997.60) rotate(0.03)" font-size="10.1" text-anchor="end" font-weight="normal" >3</text>
<path d="M42.20 966.00H48.20" stroke="#231f20" stroke-width="1.6"/>
<text transform="translate(39.90 969.50) rotate(0.03)" font-size="10.1" text-anchor="end" font-weight="normal" >4</text>
<path d="M42.20 937.90H48.20" stroke="#231f20" stroke-width="1.6"/>
<text transform="translate(39.90 941.40) rotate(0.03)" font-size="10.1" text-anchor="end" font-weight="normal" >5</text>
<path d="M81.20 1078.40V1084.40" stroke="#231f20" stroke-width="1.7"/>
<text transform="translate(81.20 1095.30) rotate(0.03)" font-size="10.6" text-anchor="middle" font-weight="normal" >UT-SCC-14</text>
<path d="M153.50 1078.40V1084.40" stroke="#231f20" stroke-width="1.7"/>
<text transform="translate(153.50 1095.30) rotate(0.03)" font-size="10.6" text-anchor="middle" font-weight="normal" >HNSCC16</text>
<path d="M225.80 1078.40V1084.40" stroke="#231f20" stroke-width="1.7"/>
<text transform="translate(225.80 1095.30) rotate(0.03)" font-size="10.6" text-anchor="middle" font-weight="normal" >HNSCC46</text>
<text transform="translate(28.40 1007.60) rotate(-90)" font-size="11.1" text-anchor="middle">positive cells [%]</text>
<rect x="260.40" y="940.60" width="17.3" height="9.9" fill="#231f20"/>
<text transform="translate(285.00 949.50) rotate(0.03)" font-size="11.2" text-anchor="start" font-weight="normal" >0 MPa</text>
<rect x="261.45" y="961.85" width="15.2" height="7.8" fill="#b3b5b7" stroke="#231f20" stroke-width="2.1"/>
<text transform="translate(285.00 969.70) rotate(0.03)" font-size="11.2" text-anchor="start" font-weight="normal" >210 MPa</text>
<rect x="261.45" y="982.05" width="15.2" height="7.8" fill="#dedfe0" stroke="#231f20" stroke-width="2.1"/>
<text transform="translate(285.00 989.90) rotate(0.03)" font-size="11.2" text-anchor="start" font-weight="normal" >315 MPa</text>
<text transform="translate(363.40 893.80) rotate(0.03) scale(1.0 1.0)" font-size="25" font-weight="bold" style="stroke:#231f20;stroke-width:0.55px;stroke-linejoin:miter">J</text>
<text transform="translate(504.00 917.60) rotate(0.03)" font-size="13" text-anchor="middle" font-weight="normal" >LAMP-1 + Rab7a</text>
<path d="M411.85 1073.38V1071.17M408.13 1071.17H415.57" stroke="#2c2829" stroke-width="0.75" fill="none"/>
<rect x="405.20" y="1073.38" width="13.30" height="3.32" fill="#231f20"/>
<path d="M431.45 1001.73V995.70M427.73 995.70H435.17" stroke="#2c2829" stroke-width="0.75" fill="none"/>
<rect x="425.80" y="1002.73" width="11.30" height="73.72" fill="#b3b5b7" stroke="#231f20" stroke-width="2.0"/>
<path d="M451.05 1038.88V1027.23M447.33 1027.23H454.77" stroke="#2c2829" stroke-width="0.75" fill="none"/>
<rect x="445.40" y="1039.88" width="11.30" height="36.58" fill="#dedfe0" stroke="#231f20" stroke-width="2.0"/>
<path d="M484.30 1067.94V1063.44M480.58 1063.44H488.02" stroke="#2c2829" stroke-width="0.75" fill="none"/>
<rect x="477.65" y="1067.94" width="13.30" height="8.76" fill="#231f20"/>
<path d="M503.90 999.44V995.44M500.18 995.44H507.62" stroke="#2c2829" stroke-width="0.75" fill="none"/>
<rect x="498.25" y="1000.44" width="11.30" height="76.01" fill="#b3b5b7" stroke="#231f20" stroke-width="2.0"/>
<path d="M523.50 1020.77V1003.18M519.78 1003.18H527.22" stroke="#2c2829" stroke-width="0.75" fill="none"/>
<rect x="517.85" y="1021.77" width="11.30" height="54.68" fill="#dedfe0" stroke="#231f20" stroke-width="2.0"/>
<path d="M556.45 1069.90V1064.12M552.73 1064.12H560.17" stroke="#2c2829" stroke-width="0.75" fill="none"/>
<rect x="549.80" y="1069.90" width="13.30" height="6.80" fill="#231f20"/>
<path d="M576.05 1000.20V995.36M572.33 995.36H579.77" stroke="#2c2829" stroke-width="0.75" fill="none"/>
<rect x="570.40" y="1001.20" width="11.30" height="75.25" fill="#b3b5b7" stroke="#231f20" stroke-width="2.0"/>
<path d="M595.65 1024.00V1003.18M591.93 1003.18H599.37" stroke="#2c2829" stroke-width="0.75" fill="none"/>
<rect x="590.00" y="1025.00" width="11.30" height="51.45" fill="#dedfe0" stroke="#231f20" stroke-width="2.0"/>
<path d="M398.90 936.90V1076.70H609.20" stroke="#231f20" stroke-width="1.5" fill="none" stroke-linejoin="miter"/>
<path d="M392.90 1076.70H398.90" stroke="#231f20" stroke-width="1.6"/>
<text transform="translate(390.60 1080.20) rotate(0.03)" font-size="10.1" text-anchor="end" font-weight="normal" >0</text>
<path d="M392.90 1034.20H398.90" stroke="#231f20" stroke-width="1.6"/>
<text transform="translate(390.60 1037.70) rotate(0.03)" font-size="10.1" text-anchor="end" font-weight="normal" >50</text>
<path d="M392.90 991.70H398.90" stroke="#231f20" stroke-width="1.6"/>
<text transform="translate(390.60 995.20) rotate(0.03)" font-size="10.1" text-anchor="end" font-weight="normal" >100</text>
<path d="M392.90 949.20H398.90" stroke="#231f20" stroke-width="1.6"/>
<text transform="translate(390.60 952.70) rotate(0.03)" font-size="10.1" text-anchor="end" font-weight="normal" >150</text>
<path d="M431.40 1076.70V1082.70" stroke="#231f20" stroke-width="1.7"/>
<text transform="translate(431.40 1094.30) rotate(0.03)" font-size="10.6" text-anchor="middle" font-weight="normal" >UT-SCC-14</text>
<path d="M504.00 1076.70V1082.70" stroke="#231f20" stroke-width="1.7"/>
<text transform="translate(504.00 1094.30) rotate(0.03)" font-size="10.6" text-anchor="middle" font-weight="normal" >HNSCC16</text>
<path d="M576.10 1076.70V1082.70" stroke="#231f20" stroke-width="1.7"/>
<text transform="translate(576.10 1094.30) rotate(0.03)" font-size="10.6" text-anchor="middle" font-weight="normal" >HNSCC46</text>
<text transform="translate(365.70 1006.40) rotate(-90)" font-size="11.1" text-anchor="middle">positive cells [%]</text>
<rect x="612.10" y="941.30" width="17.3" height="9.9" fill="#231f20"/>
<text transform="translate(636.70 950.20) rotate(0.03)" font-size="11.2" text-anchor="start" font-weight="normal" >0 MPa</text>
<rect x="613.15" y="962.45" width="15.2" height="7.8" fill="#b3b5b7" stroke="#231f20" stroke-width="2.1"/>
<text transform="translate(636.70 970.30) rotate(0.03)" font-size="11.2" text-anchor="start" font-weight="normal" >210 MPa</text>
<rect x="613.15" y="982.55" width="15.2" height="7.8" fill="#dedfe0" stroke="#231f20" stroke-width="2.1"/>
<text transform="translate(636.70 990.40) rotate(0.03)" font-size="11.2" text-anchor="start" font-weight="normal" >315 MPa</text>
<path d="M407.80 991.80V984.60H429.20V991.80" stroke="#231f20" stroke-width="2.2" fill="none" stroke-linejoin="miter" stroke-linecap="round"/>
<path d="M407.80 973.40V966.10H445.50V973.40" stroke="#231f20" stroke-width="2.2" fill="none" stroke-linejoin="miter" stroke-linecap="round"/>
<path d="M428.40 950.80V943.40H446.00V950.80" stroke="#231f20" stroke-width="2.2" fill="none" stroke-linejoin="miter" stroke-linecap="round"/>
<path d="M480.20 990.80V982.90H503.30V990.80" stroke="#231f20" stroke-width="2.2" fill="none" stroke-linejoin="miter" stroke-linecap="round"/>
<path d="M480.20 982.60V974.10H519.80V981.20" stroke="#231f20" stroke-width="2.2" fill="none" stroke-linejoin="miter" stroke-linecap="round"/>
<path d="M490.70 954.10V946.50H515.50V953.60" stroke="#231f20" stroke-width="2.2" fill="none" stroke-linejoin="miter" stroke-linecap="round"/>
<path d="M551.90 990.80V984.60H575.60V990.80" stroke="#231f20" stroke-width="2.2" fill="none" stroke-linejoin="miter" stroke-linecap="round"/>
<path d="M551.90 984.60V975.40H592.40V982.00" stroke="#231f20" stroke-width="2.2" fill="none" stroke-linejoin="miter" stroke-linecap="round"/>
<path d="M569.80 957.90V950.70H589.60V957.90" stroke="#231f20" stroke-width="2.2" fill="none" stroke-linejoin="miter" stroke-linecap="round"/>
<path d="M418.40 969.90L418.40 978.10M421.95 971.95L414.85 976.05M421.95 976.05L414.85 971.95" stroke="#231f20" stroke-width="1.9" fill="none" stroke-linecap="butt"/>
<path d="M426.90 952.10L426.90 960.30M430.45 954.15L423.35 958.25M430.45 958.25L423.35 954.15" stroke="#231f20" stroke-width="1.9" fill="none" stroke-linecap="butt"/>
<path d="M437.20 929.40L437.20 937.60M440.75 931.45L433.65 935.55M440.75 935.55L433.65 931.45" stroke="#231f20" stroke-width="1.9" fill="none" stroke-linecap="butt"/>
<path d="M500.00 960.10L500.00 968.30M503.55 962.15L496.45 966.25M503.55 966.25L496.45 962.15" stroke="#231f20" stroke-width="1.9" fill="none" stroke-linecap="butt"/>
<path d="M503.30 932.20L503.30 940.40M506.85 934.25L499.75 938.35M506.85 938.35L499.75 934.25" stroke="#231f20" stroke-width="1.9" fill="none" stroke-linecap="butt"/>
<path d="M572.30 960.10L572.30 968.30M575.85 962.15L568.75 966.25M575.85 966.25L568.75 962.15" stroke="#231f20" stroke-width="1.9" fill="none" stroke-linecap="butt"/>
<path d="M579.60 936.70L579.60 944.90M583.15 938.75L576.05 942.85M583.15 942.85L576.05 938.75" stroke="#231f20" stroke-width="1.9" fill="none" stroke-linecap="butt"/>
</svg>
</body></html>
